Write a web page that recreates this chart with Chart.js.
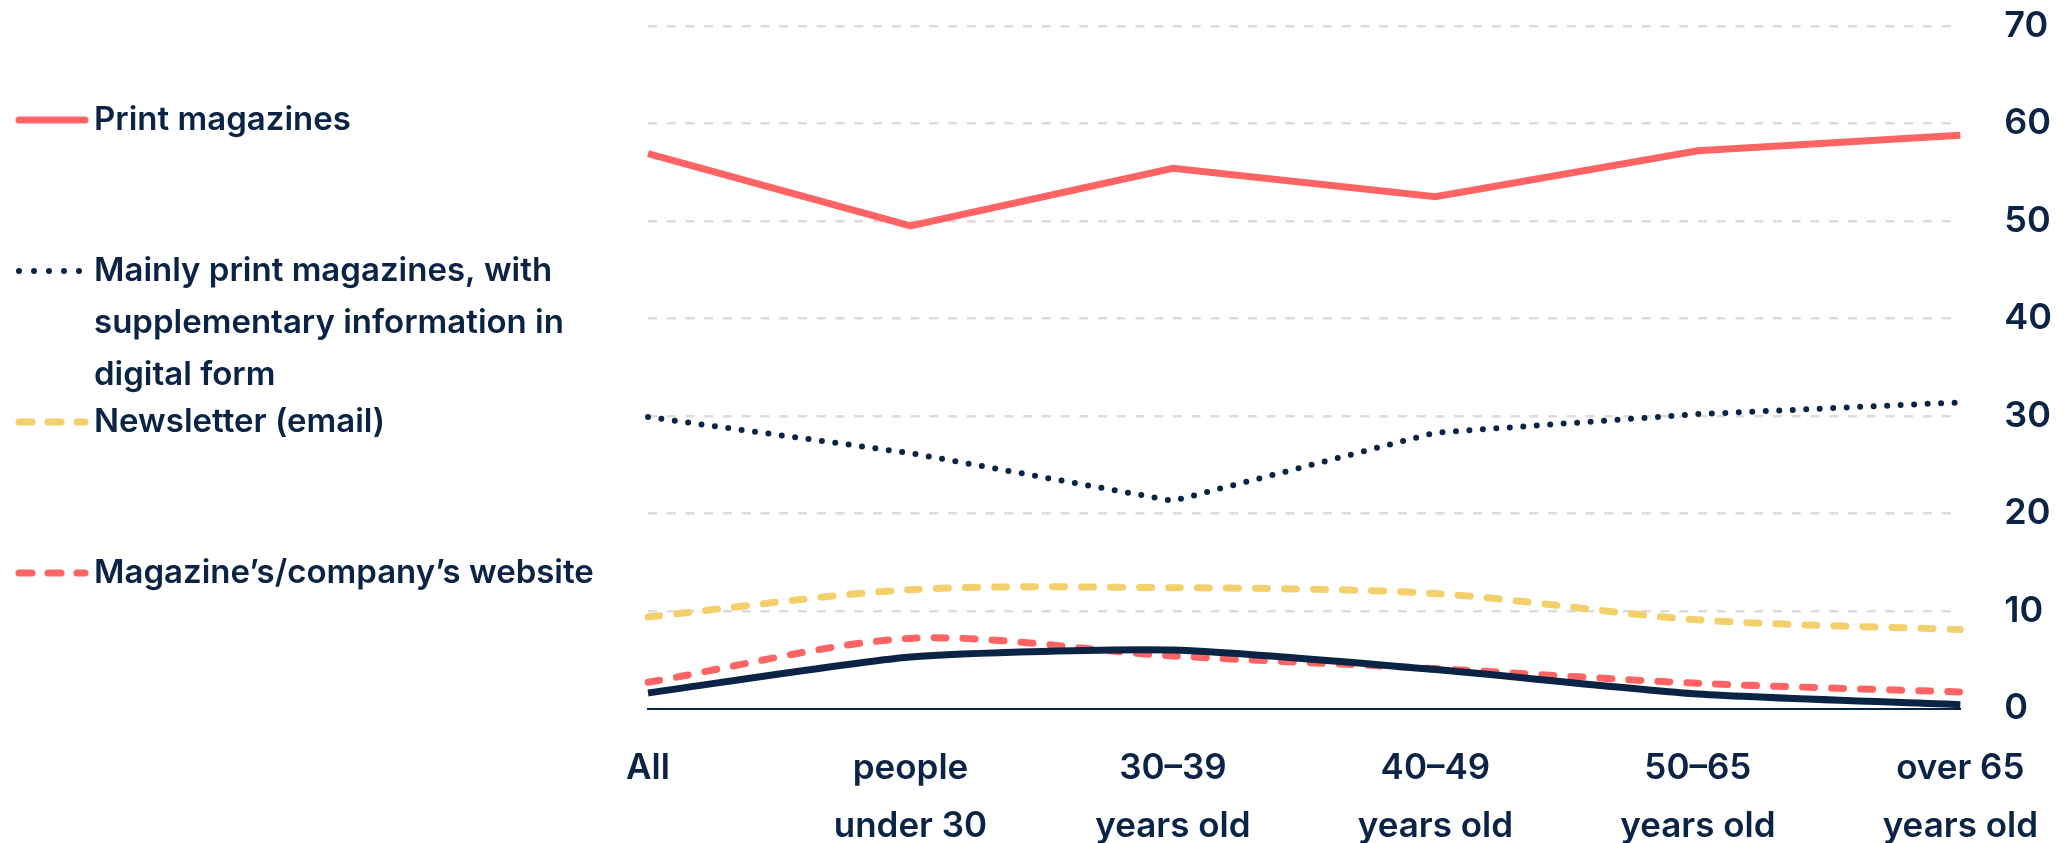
<!DOCTYPE html>
<html>
<head>
<meta charset="utf-8">
<script src="https://cdn.jsdelivr.net/npm/chart.js@4.4.0/dist/chart.umd.min.js"></script>
<style>
  html, body { margin: 0; padding: 0; background: #fff; }
  #wrap { width: 2069px; height: 843px; position: relative; }
</style>
</head>
<body>
<div id="wrap"><canvas id="chart"></canvas></div>
<script>
const ageGroups = [["All"], ["people", "under 30"], ["30–39", "years old"], ["40–49", "years old"], ["50–65", "years old"], ["over 65", "years old"]];
const printMagazines = [56.9, 49.5, 55.4, 52.5, 57.2, 58.8];
const mainlyPrint = [29.9, 26.2, 21.3, 28.3, 30.2, 31.4];
const newsletter = [9.4, 12.2, 12.4, 11.8, 9.1, 8.1];
const website = [2.7, 7.2, 5.4, 4.1, 2.6, 1.7];
const otherDigital = [1.6, 5.3, 6.0, 4.0, 1.5, 0.4];
const legendLabels = [
  ["Print magazines"],
  ["Mainly print magazines, with", "supplementary information in", "digital form"],
  ["Newsletter (email)"],
  ["Magazine’s/company’s website"]
];

const NAVY = "#0b2446";
const RED = "#ff6464";
const YELLOW = "#f3d06c";
const FONT = "Inter";

// legend drawn in fixed slots on the left, like the original
const sideLegend = {
  id: "sideLegend",
  afterDraw(chart) {
    const ctx = chart.ctx;
    const slotTop = 120, slotGap = 151, lineGap = 52;
    ctx.save();
    legendLabels.forEach((lines, i) => {
      const ds = chart.data.datasets[i];
      const y = slotTop + i * slotGap;
      ctx.beginPath();
      ctx.strokeStyle = ds.borderColor;
      ctx.lineWidth = ds.borderWidth;
      ctx.lineCap = "round";
      ctx.setLineDash(ds.legendDash || []);
      ctx.moveTo(19, y);
      ctx.lineTo(85, y);
      ctx.stroke();
      ctx.setLineDash([]);
      ctx.fillStyle = NAVY;
      ctx.font = "600 33px " + FONT;
      ctx.textBaseline = "middle";
      ctx.textAlign = "left";
      lines.forEach((txt, j) => ctx.fillText(txt, 94, y + j * lineGap));
    });
    ctx.restore();
  }
};

const ctx = document.getElementById("chart").getContext("2d");
new Chart(ctx, {
  type: "line",
  data: {
    labels: ageGroups,
    datasets: [
      {
        label: "Print magazines",
        data: printMagazines,
        borderColor: RED,
        borderWidth: 7,
        tension: 0,
        order: 1
      },
      {
        label: "Mainly print magazines, with supplementary information in digital form",
        data: mainlyPrint,
        borderColor: NAVY,
        borderWidth: 6,
        borderDash: [0, 13.5],
        borderCapStyle: "round",
        legendDash: [0, 15],
        tension: 0,
        order: 2
      },
      {
        label: "Newsletter (email)",
        data: newsletter,
        borderColor: YELLOW,
        borderWidth: 7,
        borderDash: [12, 17],
        borderCapStyle: "round",
        legendDash: [13, 16],
        tension: 0.3,
        order: 3
      },
      {
        label: "Magazine’s/company’s website",
        data: website,
        borderColor: RED,
        borderWidth: 7,
        borderDash: [12, 17],
        borderCapStyle: "round",
        legendDash: [13, 16],
        tension: 0.3,
        order: 4
      },
      {
        label: "Other",
        data: otherDigital,
        borderColor: NAVY,
        borderWidth: 7,
        tension: 0.2,
        order: 0
      }
    ]
  },
  options: {
    responsive: true,
    maintainAspectRatio: false,
    animation: false,
    elements: { point: { radius: 0 } },
    layout: { padding: { left: 648, top: 26, right: 0, bottom: 0 } },
    plugins: {
      legend: { display: false },
      tooltip: { enabled: false }
    },
    scales: {
      x: {
        offset: false,
        grid: { display: false, drawTicks: false },
        border: { display: true, color: NAVY, width: 2 },
        ticks: {
          color: NAVY,
          font: { family: FONT, size: 35, weight: "600", lineHeight: 1.66 },
          padding: 31,
          maxRotation: 0,
          autoSkip: false
        },
        afterFit(scale) { scale.height = 134.4; }
      },
      y: {
        position: "right",
        min: 0,
        max: 70,
        grid: {
          drawTicks: false,
          color: (c) => (c.tick && c.tick.value === 0 ? "rgba(0,0,0,0)" : "#dcdcdc"),
          lineWidth: 2.5
        },
        border: { display: false, dash: [9, 9.75] },
        ticks: {
          stepSize: 10,
          color: NAVY,
          padding: 44,
          crossAlign: "near",
          font: { family: FONT, size: 36, weight: "600", lineHeight: 1 }
        },
        afterFit(scale) {
          scale.width = 102;
          scale.paddingTop = 0;
          scale.paddingBottom = 0;
        }
      }
    }
  },
  plugins: [sideLegend]
});
</script>
</body>
</html>
